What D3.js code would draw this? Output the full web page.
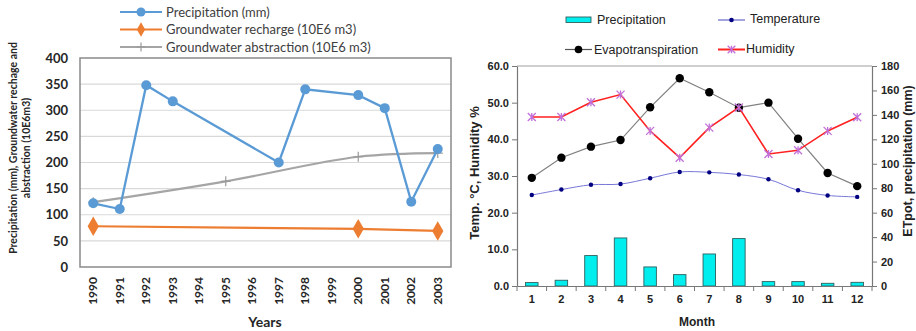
<!DOCTYPE html>
<html>
<head>
<meta charset="utf-8">
<script src="https://cdn.jsdelivr.net/npm/d3@7"></script>
<style>
  html, body { margin: 0; padding: 0; background: #fff; }
  svg { display: block; }
</style>
</head>
<body>
<svg id="chart" width="916" height="331"></svg>
<script>
// ---------------- DATA ----------------
// Left chart
const years = ["1990","1991","1992","1993","1994","1995","1996","1997","1998","1999","2000","2001","2002","2003"];
const precipitationMm = [122, 111, 348, 317, null, null, null, 200, 340, null, 329, 304, 125, 226];
const rechargeVol = [78, null, null, null, null, null, null, null, null, null, 73, null, null, 69];
const abstractionVol = [124, null, null, null, null, 164, null, null, null, null, 211, null, null, 218];
const leftTicks = [0, 50, 100, 150, 200, 250, 300, 350, 400];

// Right chart
const months = ["1","2","3","4","5","6","7","8","9","10","11","12"];
const monthlyPrecip = [2.8, 4.7, 24.9, 39.3, 15.6, 9.3, 26.2, 38.8, 3.6, 3.6, 2.2, 3.0];
const evapotranspiration = [88.5, 105, 114, 119.4, 146.2, 170, 158.5, 145.9, 150, 120.5, 92.5, 81.7];
const temperature = [24.8, 26.3, 27.6, 27.8, 29.4, 31.1, 31.0, 30.4, 29.1, 26.1, 24.7, 24.3];
const humidity = [46.1, 46.1, 50.1, 52.2, 42.3, 35.0, 43.2, 48.7, 36.0, 37.0, 42.3, 46.0];
const rightLeftTicks = [0, 10, 20, 30, 40, 50, 60];
const rightRightTicks = [0, 20, 40, 60, 80, 100, 120, 140, 160, 180];

// ---------------- LEFT CHART ----------------
const svg = d3.select("#chart");
const LF = "Lato, 'Open Sans', sans-serif";
const L = {x0: 80, x1: 451, y0: 58, y1: 267};
const gL = svg.append("g");

const xL = d3.scaleBand().domain(years).range([L.x0, L.x1]);
const yL = d3.scaleLinear().domain([0, 400]).range([L.y1, L.y0]);
const cx = d => xL(d) + xL.bandwidth() / 2;

// gridlines
gL.append("g").selectAll("line").data(leftTicks.filter(t => t > 0 && t < 400)).join("line")
  .attr("x1", L.x0).attr("x2", L.x1)
  .attr("y1", d => yL(d)).attr("y2", d => yL(d))
  .attr("stroke", "#d9d9d9").attr("stroke-width", 1.2);

// plot border
gL.append("rect").attr("x", L.x0).attr("y", L.y0)
  .attr("width", L.x1 - L.x0).attr("height", L.y1 - L.y0)
  .attr("fill", "none").attr("stroke", "#8a8a8a").attr("stroke-width", 1.5);

// y axis labels
const yAxisL = d3.axisLeft(yL).tickValues(leftTicks).tickSize(0).tickPadding(12);
gL.append("g").attr("transform", `translate(${L.x0},0)`).call(yAxisL)
  .call(g => g.select(".domain").remove())
  .selectAll("text").attr("font-family", LF).attr("font-weight", "bold")
  .attr("font-size", 13).attr("fill", "#262626");

// x axis labels (rotated)
const xAxisL = d3.axisBottom(xL).tickSize(0);
const gxL = gL.append("g").attr("transform", `translate(0,${L.y1})`).call(xAxisL);
gxL.select(".domain").remove();
gxL.selectAll("text")
  .attr("font-family", LF).attr("font-weight", "bold").attr("font-size", 12).attr("fill", "#262626")
  .attr("text-anchor", "end").attr("dy", "0.35em")
  .attr("transform", "translate(0,10) rotate(-90)")
  .attr("x", 0).attr("y", 0);

// axis titles
gL.append("text").attr("x", 265).attr("y", 327).attr("text-anchor", "middle")
  .attr("font-family", LF).attr("font-weight", "bold").attr("font-size", 14).attr("fill", "#262626")
  .text("Years");
const ytL = gL.append("text").attr("transform", "translate(0,148) rotate(-90)")
  .attr("text-anchor", "middle").attr("font-family", LF).attr("font-weight", "bold")
  .attr("font-size", 10.5).attr("fill", "#262626");
ytL.append("tspan").attr("x", 0).attr("y", 17).text("Precipitation (mm), Groundwater rechage and");
ytL.append("tspan").attr("x", 0).attr("y", 30).text("abstraction (10E6m3)");

function pts(vals) {
  return years.map((y, i) => ({y, v: vals[i]})).filter(d => d.v != null);
}
const blue = "#5b9bd5", orange = "#ed7d31", grey = "#a5a5a5";

// abstraction (smoothed)
const absPts = pts(abstractionVol);
gL.append("path").datum(absPts)
  .attr("d", d3.line().x(d => cx(d.y)).y(d => yL(d.v)).curve(d3.curveCatmullRom.alpha(0.5)))
  .attr("fill", "none").attr("stroke", grey).attr("stroke-width", 2.2);
function plus(g, x, y, s, col) {
  g.append("path").attr("d", `M${x - s},${y}H${x + s}M${x},${y - s}V${y + s}`)
    .attr("stroke", col).attr("stroke-width", 1.2).attr("fill", "none");
}
absPts.forEach(d => plus(gL, cx(d.y), yL(d.v), 5, "#9a9a9a"));

// recharge
const recPts = pts(rechargeVol);
gL.append("path").datum(recPts)
  .attr("d", d3.line().x(d => cx(d.y)).y(d => yL(d.v)))
  .attr("fill", "none").attr("stroke", orange).attr("stroke-width", 2.2);
gL.append("g").selectAll("path").data(recPts).join("path")
  .attr("d", d3.symbol(d3.symbolDiamond, 110))
  .attr("transform", d => `translate(${cx(d.y)},${yL(d.v)})`)
  .attr("fill", orange);

// precipitation
const prePts = pts(precipitationMm);
gL.append("path").datum(prePts)
  .attr("d", d3.line().x(d => cx(d.y)).y(d => yL(d.v)))
  .attr("fill", "none").attr("stroke", blue).attr("stroke-width", 2.3);
gL.append("g").selectAll("circle").data(prePts).join("circle")
  .attr("cx", d => cx(d.y)).attr("cy", d => yL(d.v)).attr("r", 5)
  .attr("fill", blue);

// legend
const legL = [
  {label: "Precipitation (mm)", col: blue, m: "circle", y: 12},
  {label: "Groundwater recharge (10E6 m3)", col: orange, m: "diamond", y: 29.5},
  {label: "Groundwater abstraction (10E6 m3)", col: grey, m: "plus", y: 47}
];
legL.forEach(d => {
  gL.append("line").attr("x1", 120).attr("x2", 162).attr("y1", d.y).attr("y2", d.y)
    .attr("stroke", d.col).attr("stroke-width", 2.2);
  if (d.m === "circle") gL.append("circle").attr("cx", 141).attr("cy", d.y).attr("r", 4.5).attr("fill", d.col);
  if (d.m === "diamond") gL.append("path").attr("d", d3.symbol(d3.symbolDiamond, 60)).attr("transform", `translate(141,${d.y})`).attr("fill", d.col);
  if (d.m === "plus") plus(gL, 141, d.y, 4.5, "#9a9a9a");
  gL.append("text").attr("x", 166).attr("y", d.y).attr("dy", "0.35em")
    .attr("font-family", LF).attr("font-size", 13).attr("fill", "#404040").text(d.label);
});

// ---------------- RIGHT CHART ----------------
const RF = "'Liberation Sans', Arial, sans-serif";
const R = {x0: 517, x1: 872, y0: 66, y1: 286};
const gR = svg.append("g");
const xR = d3.scaleBand().domain(months).range([R.x0, R.x1]);
const yRL = d3.scaleLinear().domain([0, 60]).range([R.y1, R.y0]);
const yRR = d3.scaleLinear().domain([0, 180]).range([R.y1, R.y0]);
const cxR = d => xR(d) + xR.bandwidth() / 2;

// top border
gR.append("line").attr("x1", R.x0).attr("x2", R.x1).attr("y1", R.y0).attr("y2", R.y0)
  .attr("stroke", "#a0a0a0").attr("stroke-width", 1.2);

// bars
const barW = 12.5;
gR.append("g").selectAll("rect").data(months).join("rect")
  .attr("x", (d) => cxR(d) - barW / 2)
  .attr("y", (d, i) => yRR(monthlyPrecip[i]))
  .attr("width", barW)
  .attr("height", (d, i) => R.y1 - yRR(monthlyPrecip[i]))
  .attr("fill", "#00eeee").attr("stroke", "#2f5f5f").attr("stroke-width", 0.9);

// axes
const axStyle = g => {
  g.select(".domain").attr("stroke", "#777").attr("stroke-width", 1.2);
  g.selectAll(".tick line").attr("stroke", "#777");
  g.selectAll("text").attr("font-family", RF).attr("font-weight", "bold")
    .attr("font-size", 11).attr("fill", "#222");
};
gR.append("g").attr("transform", `translate(${R.x0},0)`)
  .call(d3.axisLeft(yRL).tickValues(rightLeftTicks).tickFormat(d3.format(".1f")).tickSize(5).tickSizeOuter(0).tickPadding(3))
  .call(axStyle);
gR.append("g").attr("transform", `translate(${R.x1},0)`)
  .call(d3.axisRight(yRR).tickValues(rightRightTicks).tickSize(5).tickSizeOuter(0).tickPadding(4))
  .call(axStyle);
const gxR = gR.append("g").attr("transform", `translate(0,${R.y1})`)
  .call(d3.axisBottom(xR).tickSize(0).tickPadding(9))
  .call(axStyle);
// tick marks at category boundaries
gxR.append("g").selectAll("line").data(d3.range(13)).join("line")
  .attr("x1", i => R.x0 + i * xR.step()).attr("x2", i => R.x0 + i * xR.step())
  .attr("y1", 0).attr("y2", 5).attr("stroke", "#777");

// temperature
gR.append("path").datum(temperature)
  .attr("d", d3.line().x((d, i) => cxR(months[i])).y(d => yRL(d)).curve(d3.curveCatmullRom.alpha(0.5)))
  .attr("fill", "none").attr("stroke", "#7777d8").attr("stroke-width", 1);
gR.append("g").selectAll("circle").data(temperature).join("circle")
  .attr("cx", (d, i) => cxR(months[i])).attr("cy", d => yRL(d)).attr("r", 2.2).attr("fill", "#000080");

// evapotranspiration
gR.append("path").datum(evapotranspiration)
  .attr("d", d3.line().x((d, i) => cxR(months[i])).y(d => yRR(d)))
  .attr("fill", "none").attr("stroke", "#808080").attr("stroke-width", 1.2);
gR.append("g").selectAll("circle").data(evapotranspiration).join("circle")
  .attr("cx", (d, i) => cxR(months[i])).attr("cy", d => yRR(d)).attr("r", 4.2).attr("fill", "#000");

// humidity
gR.append("path").datum(humidity)
  .attr("d", d3.line().x((d, i) => cxR(months[i])).y(d => yRL(d)))
  .attr("fill", "none").attr("stroke", "#ff2020").attr("stroke-width", 1.6);
function star(g, x, y, s) {
  g.append("path")
    .attr("d", `M${x - s},${y - s}L${x + s},${y + s}M${x - s},${y + s}L${x + s},${y - s}M${x},${y - s}V${y + s}`)
    .attr("stroke", "#c070d8").attr("stroke-width", 1.3).attr("fill", "none");
}
humidity.forEach((d, i) => star(gR, cxR(months[i]), yRL(d), 4));

// titles
gR.append("text").attr("x", 697).attr("y", 326).attr("text-anchor", "middle")
  .attr("font-family", RF).attr("font-weight", "bold").attr("font-size", 12).attr("fill", "#222")
  .text("Month");
gR.append("text").attr("transform", "translate(479,173) rotate(-90)").attr("text-anchor", "middle")
  .attr("font-family", RF).attr("font-weight", "bold").attr("font-size", 13).attr("fill", "#222")
  .text("Temp. °C, Humidity %");
gR.append("text").attr("transform", "translate(911.5,161) rotate(-90)").attr("text-anchor", "middle")
  .attr("font-family", RF).attr("font-weight", "bold").attr("font-size", 12.5).attr("fill", "#222")
  .text("ETpot, precipitation (mm)");

// legend
const lt = (x, y, t) => gR.append("text").attr("x", x).attr("y", y).attr("dy", "0.35em")
  .attr("font-family", RF).attr("font-size", 12.5).attr("fill", "#222").text(t);
gR.append("rect").attr("x", 566).attr("y", 17).attr("width", 25).attr("height", 5.5)
  .attr("fill", "#00eeee").attr("stroke", "#2f5f5f").attr("stroke-width", 0.9);
lt(597, 19.5, "Precipitation");
gR.append("line").attr("x1", 718).attr("x2", 745).attr("y1", 20).attr("y2", 20).attr("stroke", "#6666cc").attr("stroke-width", 1.2);
gR.append("circle").attr("cx", 731.5).attr("cy", 20).attr("r", 2.3).attr("fill", "#000080");
lt(750, 19, "Temperature");
gR.append("line").attr("x1", 565).attr("x2", 592).attr("y1", 49.5).attr("y2", 49.5).attr("stroke", "#555").attr("stroke-width", 1.2);
gR.append("circle").attr("cx", 578.5).attr("cy", 49.5).attr("r", 3.8).attr("fill", "#000");
lt(594, 49.5, "Evapotranspiration");
gR.append("line").attr("x1", 718).attr("x2", 745).attr("y1", 49.5).attr("y2", 49.5).attr("stroke", "#ff2020").attr("stroke-width", 2);
star(gR, 731.5, 49.5, 3.8);
lt(746, 48.5, "Humidity");
</script>
</body>
</html>
